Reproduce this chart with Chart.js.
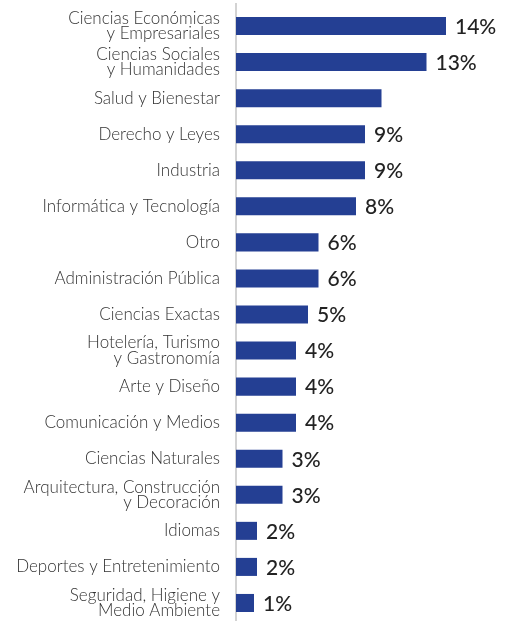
<!DOCTYPE html>
<html>
<head>
<meta charset="utf-8">
<script src="https://cdn.jsdelivr.net/npm/chart.js@4/dist/chart.umd.min.js"></script>
<style>
  html, body { margin: 0; padding: 0; background: #fff; }
  #wrap { width: 509px; height: 621px; position: relative; }
</style>
</head>
<body>
<div id="wrap"><canvas id="areasChart"></canvas></div>
<script>
// Categories (multi-line labels as arrays)
const categories = [
    ['Ciencias Económicas', 'y Empresariales'],
    ['Ciencias Sociales', 'y Humanidades'],
    'Salud y Bienestar',
    'Derecho y Leyes',
    'Industria',
    'Informática y Tecnología',
    'Otro',
    'Administración Pública',
    'Ciencias Exactas',
    ['Hotelería, Turismo', 'y Gastronomía'],
    'Arte y Diseño',
    'Comunicación y Medios',
    'Ciencias Naturales',
    ['Arquitectura, Construcción', 'y Decoración'],
    'Idiomas',
    'Deportes y Entretenimiento',
    ['Seguridad, Higiene y', 'Medio Ambiente']
];

// Share of each area (%)
const shares = [14.0, 12.7, 9.7, 8.6, 8.6, 8.0, 5.5, 5.5, 4.8, 4.0, 4.0, 4.0, 3.1, 3.1, 1.4, 1.4, 1.2];

// Printed value labels (Salud y Bienestar has none in the original)
const valueLabels = ['14%', '13%', '', '9%', '9%', '8%', '6%', '6%', '5%', '4%', '4%', '4%', '3%', '3%', '2%', '2%', '1%'];

const xMax = 18.2;

// Axis line (drawn a little above the plot area, like the original)
const axisLinePlugin = {
    id: 'axisLine',
    beforeDatasetsDraw(chart) {
        const ctx = chart.ctx;
        const x = chart.scales.x.getPixelForValue(0);
        ctx.save();
        ctx.strokeStyle = '#c4c4c4';
        ctx.lineWidth = 1.5;
        ctx.beginPath();
        ctx.moveTo(x, 3);
        ctx.lineTo(x, chart.chartArea.bottom);
        ctx.stroke();
        ctx.restore();
    }
};

// Draw the percentage next to each bar
const valueLabelPlugin = {
    id: 'valueLabels',
    afterDatasetsDraw(chart) {
        const ctx = chart.ctx;
        const meta = chart.getDatasetMeta(0);
        ctx.save();
        ctx.font = '500 21px Lato';
        ctx.fillStyle = '#222222';
        ctx.textAlign = 'left';
        ctx.textBaseline = 'middle';
        meta.data.forEach((bar, i) => {
            if (valueLabels[i]) {
                ctx.fillText(valueLabels[i], bar.x + 9, bar.y + 1);
            }
        });
        ctx.restore();
    }
};

const ctx = document.getElementById('areasChart').getContext('2d');
const areasChart = new Chart(ctx, {
    type: 'bar',
    data: {
        labels: categories,
        datasets: [{
            data: shares,
            backgroundColor: '#243f93',
            borderWidth: 0,
            barPercentage: 0.5,
            categoryPercentage: 1.0
        }]
    },
    options: {
        indexAxis: 'y',
        responsive: true,
        maintainAspectRatio: false,
        animation: false,
        layout: {
            padding: { top: 8, right: 0, bottom: 0, left: 0 }
        },
        plugins: {
            legend: { display: false },
            tooltip: { enabled: false }
        },
        scales: {
            x: {
                display: false,
                min: 0,
                max: xMax
            },
            y: {
                afterFit(scale) {
                    // fixed axis position, no extra room for the end labels
                    scale.width = 236;
                    scale.paddingTop = 0;
                    scale.paddingBottom = 0;
                },
                grid: { display: false, drawTicks: false },
                border: { display: false },
                ticks: {
                    padding: 16,
                    color: '#333333',
                    font: { family: 'Lato', size: 17, weight: 300, lineHeight: 0.9 }
                }
            }
        }
    },
    plugins: [axisLinePlugin, valueLabelPlugin]
});
</script>
</body>
</html>
